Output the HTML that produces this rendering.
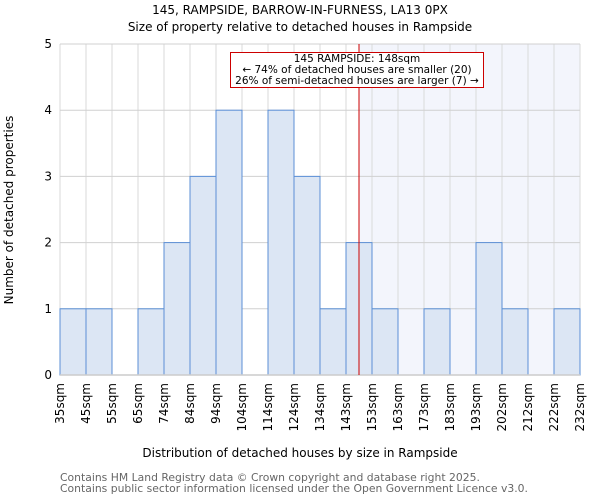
<!DOCTYPE html>
<html><head><meta charset="utf-8"><style>
body{margin:0;background:#fff;font-family:"DejaVu Sans","Liberation Sans",sans-serif}
svg text{font-family:"DejaVu Sans","Liberation Sans",sans-serif}
</style></head><body>
<svg id="chart" width="600" height="500" xmlns="http://www.w3.org/2000/svg">
<text x="300" y="14" text-anchor="middle" font-size="12">145, RAMPSIDE, BARROW-IN-FURNESS, LA13 0PX</text>
<text x="300" y="31" text-anchor="middle" font-size="12">Size of property relative to detached houses in Rampside</text>
<g id="plot"></g>
<text x="300" y="457" text-anchor="middle" font-size="12">Distribution of detached houses by size in Rampside</text>
<text transform="translate(13,210) rotate(-90)" text-anchor="middle" font-size="12">Number of detached properties</text>
<text x="60" y="481" font-size="10.8" fill="#666">Contains HM Land Registry data © Crown copyright and database right 2025.</text>
<text x="60" y="492" font-size="10.8" fill="#666">Contains public sector information licensed under the Open Government Licence v3.0.</text>
</svg>
<script>
const categories=["35sqm","45sqm","55sqm","65sqm","74sqm","84sqm","94sqm","104sqm","114sqm","124sqm","134sqm","143sqm","153sqm","163sqm","173sqm","183sqm","193sqm","202sqm","212sqm","222sqm","232sqm"];
const counts=[1,1,0,1,2,3,4,0,4,3,1,2,1,0,1,0,2,1,0,1];
const yTicks=[0,1,2,3,4,5];
const markerIndex=11.5;
const NS="http://www.w3.org/2000/svg";
const L=60,R=580,T=44,B=375,yMax=5;
const bw=(R-L)/counts.length;
const x=i=>L+i*bw;
const y=v=>B-(B-T)*v/yMax;
const g=document.getElementById('plot');
function mk(t,a){const e=document.createElementNS(NS,t);for(const k in a)e.setAttribute(k,a[k]);g.appendChild(e);return e;}
const mx=x(markerIndex);
let e=mk('rect',{x:mx,y:T,width:R-mx,height:B-T,fill:'#f3f5fc'});


for(let i=0;i<=counts.length;i++){e=mk('line',{x1:x(i),x2:x(i),y1:T,y2:B,stroke:'#dadada','stroke-width':1});

}
yTicks.forEach(t=>{e=mk('line',{x1:L,x2:R,y1:y(t),y2:y(t),stroke:'#d0d0d0','stroke-width':1});


e=mk('text',{x:L-8,y:y(t)+4,'text-anchor':'end','font-size':12});e.textContent=t;

});
counts.forEach((v,i)=>{if(v<=0)return;e=mk('rect',{x:x(i),y:y(v),width:bw,height:B-y(v),fill:'#dce6f4',stroke:'#5b8fd6','stroke-width':1});

});
categories.forEach((c,i)=>{e=mk('text',{transform:`translate(${x(i)+4},${383}) rotate(-90)`,'text-anchor':'end','font-size':12});e.textContent=c;

});
e=mk('line',{x1:L,x2:R,y1:B,y2:B,stroke:'#ccc','stroke-width':1.5});


e=mk('line',{x1:mx,x2:mx,y1:T,y2:B,stroke:'#cc0000','stroke-width':1});


e=mk('rect',{x:230.5,y:52.5,width:253,height:35,fill:'#fff',stroke:'#cc0000','stroke-width':1});


[["145 RAMPSIDE: 148sqm",62],["← 74% of detached houses are smaller (20)",73],["26% of semi-detached houses are larger (7) →",84]].forEach((l,k)=>{e=mk('text',{x:357,y:l[1],'text-anchor':'middle','font-size':10.5});e.textContent=l[0];

});
</script>
</body></html>
